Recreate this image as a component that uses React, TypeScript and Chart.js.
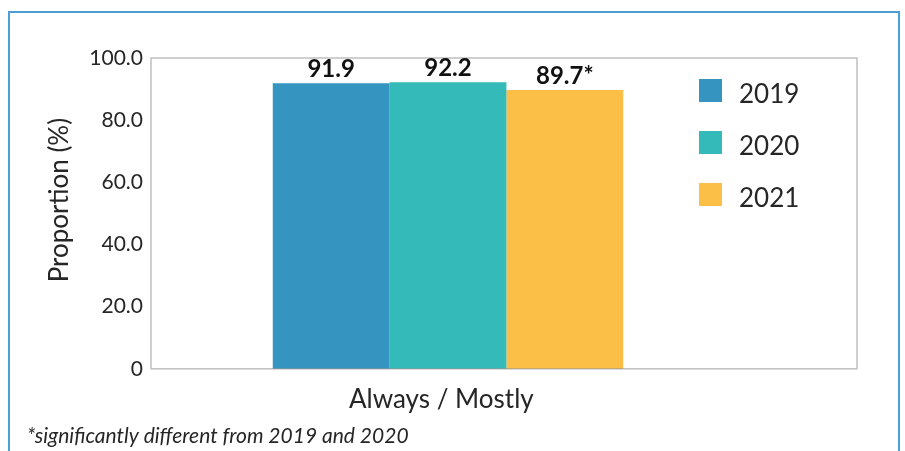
import React, { useEffect, useRef } from 'react';
import { Chart, registerables } from 'chart.js';

Chart.register(...registerables);

const categories = ['Always / Mostly'];
const years = ['2019', '2020', '2021'];
const values2019 = [91.9];
const values2020 = [92.2];
const values2021 = [89.7];
const seriesValues = [values2019, values2020, values2021];
const colors = ['#3594C0', '#34BAB8', '#FBBE47'];
const valueSuffix = ['', '', '*'];
const yTicks = [0, 20, 40, 60, 80, 100];
const yTitle = 'Proportion (%)';
const footnote = '*significantly different from 2019 and 2020';

const FONT = 'Lato, "Open Sans", sans-serif';
const TEXT = '#262626';

const framePlugin = {
  id: 'plotFrame',
  afterDatasetsDraw(chart: any) {
    const { ctx, chartArea } = chart;
    ctx.save();
    ctx.strokeStyle = 'rgba(0,0,0,0.25)';
    ctx.lineWidth = 1.5;
    ctx.strokeRect(chartArea.left, chartArea.top, 857 - chartArea.left, chartArea.bottom - chartArea.top);
    ctx.restore();
  },
};

const valueLabelPlugin = {
  id: 'valueLabels',
  afterDatasetsDraw(chart: any) {
    const { ctx } = chart;
    ctx.save();
    ctx.fillStyle = '#111';
    ctx.font = `bold 24px ${FONT}`;
    ctx.textAlign = 'center';
    ctx.textBaseline = 'alphabetic';
    chart.data.datasets.forEach((ds: any, i: number) => {
      const meta = chart.getDatasetMeta(i);
      meta.data.forEach((el: any, j: number) => {
        const v = ds.data[j];
        ctx.fillText(v.toFixed(1) + valueSuffix[i], el.x, el.y - 6);
      });
    });
    ctx.restore();
  },
};

const legendPlugin = {
  id: 'boxLegend',
  afterDraw(chart: any) {
    const { ctx } = chart;
    ctx.save();
    chart.data.datasets.forEach((ds: any, i: number) => {
      const top = 79 + i * 52;
      ctx.fillStyle = ds.backgroundColor;
      ctx.fillRect(699, top, 23, 23);
      ctx.fillStyle = TEXT;
      ctx.font = `26px ${FONT}`;
      ctx.textAlign = 'left';
      ctx.textBaseline = 'alphabetic';
      ctx.fillText(ds.label, 739, top + 24);
    });
    ctx.restore();
  },
};

export default function App() {
  const ref = useRef<HTMLCanvasElement | null>(null);

  useEffect(() => {
    if (!ref.current) return;
    const chart = new Chart(ref.current, {
      type: 'bar',
      data: {
        labels: categories,
        datasets: years.map((y, i) => ({
          label: y,
          data: seriesValues[i],
          backgroundColor: colors[i],
          borderWidth: 0,
          categoryPercentage: 0.59,
          barPercentage: 1,
        })),
      },
      options: {
        responsive: false,
        animation: false,
        devicePixelRatio: 1,
        layout: { padding: { top: 58, left: 27, right: 160, bottom: 0 } },
        plugins: {
          legend: { display: false },
          tooltip: { enabled: false },
          title: {
            display: true,
            position: 'bottom',
            align: 'start',
            text: footnote,
            color: TEXT,
            font: { family: FONT, size: 21, style: 'italic', weight: 'normal' },
            padding: { top: 0, bottom: 2 },
          },
        },
        scales: {
          x: {
            grid: { display: false, drawTicks: false },
            border: { display: false },
            ticks: {
              color: TEXT,
              font: { family: FONT, size: 26 },
              padding: 15,
              callback: (_v: any, i: number) => categories[i] + '  ',
            },
            afterFit: (s: any) => {
              s.height = 55;
            },
          },
          y: {
            min: 0,
            max: 100,
            afterBuildTicks: (s: any) => {
              s.ticks = yTicks.map((v) => ({ value: v }));
            },
            grid: { display: false, drawTicks: false },
            border: { display: false },
            ticks: {
              color: TEXT,
              font: { family: FONT, size: 21 },
              padding: 8,
              callback: (v: any) => (Number(v) === 0 ? '0' : Number(v).toFixed(1)),
            },
            title: {
              display: true,
              text: '    ' + yTitle,
              color: TEXT,
              font: { family: FONT, size: 26 },
              padding: { top: 17, bottom: 0 },
            },
            afterFit: (s: any) => {
              s.width = 124;
            },
          },
        },
      },
      plugins: [framePlugin, valueLabelPlugin, legendPlugin],
    } as any);
    return () => chart.destroy();
  }, []);

  return (
    <div style={{ position: 'fixed', left: 0, top: 0, width: 905, height: 451, overflow: 'hidden', background: '#fff' }}>
      <div
        style={{
          position: 'absolute',
          left: 8,
          top: 11,
          width: 892,
          height: 480,
          boxSizing: 'border-box',
          border: '2px solid #4c9fd2',
        }}
      />
      <canvas
        ref={ref}
        width={905}
        height={451}
        style={{ position: 'absolute', left: 0, top: 0, width: 905, height: 451 }}
      />
    </div>
  );
}
